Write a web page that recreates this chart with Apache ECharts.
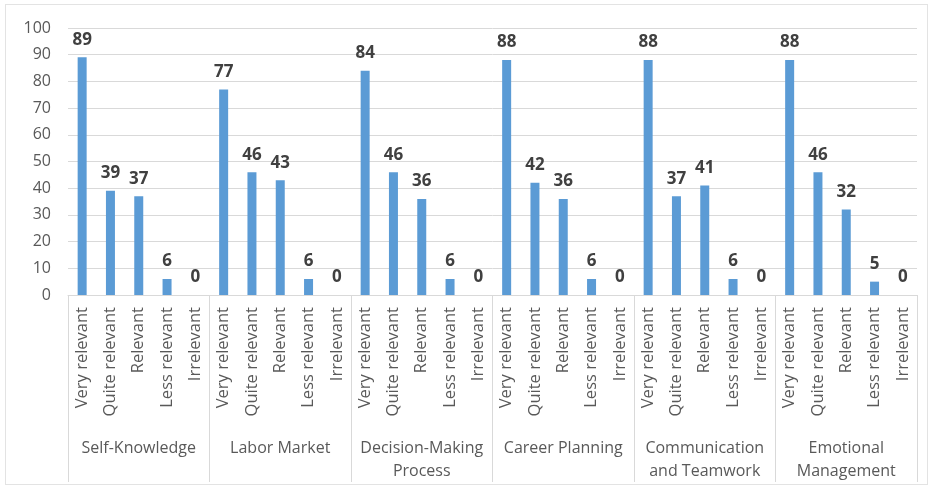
<!DOCTYPE html>
<html>
<head>
<meta charset="utf-8">
<script src="https://cdn.jsdelivr.net/npm/echarts@6/dist/echarts.min.js"></script>
<style>
  html, body { margin: 0; padding: 0; background: #ffffff; }
  #frame { position: absolute; left: 5px; top: 4px; width: 923px; height: 481px; border: 1px solid #e3e3e3; box-sizing: border-box; }
  #chart { position: absolute; left: 0; top: 0; width: 933px; height: 490px; }
</style>
</head>
<body>
<div id="frame"></div>
<div id="chart"></div>
<script>
// Training modules and relevance ratings
const groups = [
  'Self-Knowledge',
  'Labor Market',
  'Decision-Making\nProcess',
  'Career Planning',
  'Communication\nand Teamwork',
  'Emotional\nManagement'
];
const levels = ['Very relevant', 'Quite relevant', 'Relevant', 'Less relevant', 'Irrelevant'];

// Counts per module, in the order of `levels`
const selfKnowledge   = [89, 39, 37, 6, 0];
const laborMarket     = [77, 46, 43, 6, 0];
const decisionMaking  = [84, 46, 36, 6, 0];
const careerPlanning  = [88, 42, 36, 6, 0];
const communication   = [88, 37, 41, 6, 0];
const emotionalMgmt   = [88, 46, 32, 5, 0];

const yTicks = { min: 0, max: 100, interval: 10 };

const perGroup = [selfKnowledge, laborMarket, decisionMaking, careerPlanning, communication, emotionalMgmt];
const categories = [];
const values = [];
groups.forEach((g, gi) => {
  levels.forEach((lv, li) => {
    categories.push(g + '|' + lv);
    values.push(perGroup[gi][li]);
  });
});

const FONT = '"Open Sans", sans-serif';
const GRID = '#d9d9d9';
const TEXT = '#595959';

const chart = echarts.init(document.getElementById('chart'), null, { renderer: 'canvas' });
chart.setOption({
  backgroundColor: 'transparent',
  animation: false,
  grid: { left: 68, right: 16, top: 28, bottom: 195, containLabel: false },
  xAxis: [
    {
      type: 'category',
      data: categories,
      position: 'bottom',
      axisLine: { show: true, lineStyle: { color: GRID, width: 1 } },
      axisTick: { show: false },
      axisLabel: {
        interval: 0,
        rotate: 90,
        margin: 12,
        color: TEXT,
        fontFamily: FONT,
        fontSize: 16.5,
        formatter: v => v.split('|')[1]
      }
    },
    {
      type: 'category',
      data: groups,
      position: 'bottom',
      offset: 0,
      axisLine: { show: false },
      axisTick: { show: true, length: 187, interval: 0, lineStyle: { color: GRID, width: 1 } },
      axisLabel: {
        interval: 0,
        margin: 142,
        color: TEXT,
        fontFamily: FONT,
        fontSize: 16,
        lineHeight: 23
      }
    }
  ],
  yAxis: {
    type: 'value',
    min: yTicks.min,
    max: yTicks.max,
    interval: yTicks.interval,
    axisLine: { show: false },
    axisTick: { show: false },
    splitLine: { lineStyle: { color: GRID, width: 1 } },
    axisLabel: { color: TEXT, fontFamily: FONT, fontSize: 16, margin: 17 }
  },
  series: [
    {
      type: 'bar',
      xAxisIndex: 0,
      data: values,
      barWidth: 9,
      itemStyle: { color: '#5b9bd5' },
      label: {
        show: true,
        position: 'top',
        distance: 9,
        color: '#404040',
        fontFamily: FONT,
        fontWeight: 'bold',
        fontSize: 17
      }
    }
  ]
});
</script>
</body>
</html>
